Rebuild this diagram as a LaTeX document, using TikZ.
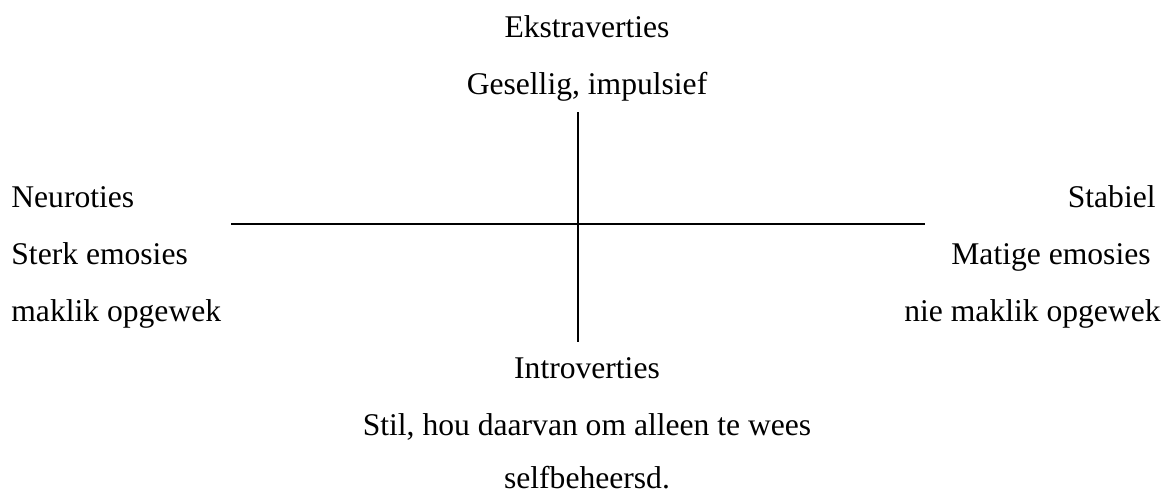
\documentclass[tikz,border=0pt]{standalone}
\usepackage{fontspec}
\setmainfont{Liberation Serif}
\usepackage{tikz}
\tikzset{
    axis/.style = {line width=1.25pt, black},
    label/.style = {inner sep=0pt, font=\fontsize{15.8}{19}\selectfont},
    mid label/.style = {label, anchor=base},
    left label/.style = {label, anchor=base west},
    right label/.style = {label, anchor=base east}
}

\begin{document}
\begin{tikzpicture}[x=0.5pt,y=-0.5pt]
    \useasboundingbox (0,0) rectangle (1167,495);

    % axis ends
    \coordinate (top) at (578,112);
    \coordinate (bottom) at (578,342);
    \coordinate (left) at (231,224);
    \coordinate (right) at (925,224);

    \draw[axis] (left) -- (right);
    \draw[axis] (top) -- (bottom);

    \node[mid label] (ekstra) at (587,37) {Ekstraverties};
    \node[mid label] (gesellig) at (587,94) {Gesellig, impulsief};

    \node[left label] (neuro) at (11,207) {Neuroties};
    \node[left label] (sterk) at (11,264) {Sterk emosies};
    \node[left label] (maklik) at (11,321) {maklik opgewek};

    \node[right label] (stabiel) at (1156,207) {Stabiel};
    \node[right label] (matige) at (1151,264) {Matige emosies};
    \node[right label] (niemaklik) at (1161,321) {nie maklik opgewek};

    \node[mid label] (intro) at (587,378) {Introverties};
    \node[mid label] (stil) at (587,435) {Stil, hou daarvan om alleen te wees};
    \node[mid label] (selfbeh) at (587,488) {selfbeheersd.};

\end{tikzpicture}
\end{document}
